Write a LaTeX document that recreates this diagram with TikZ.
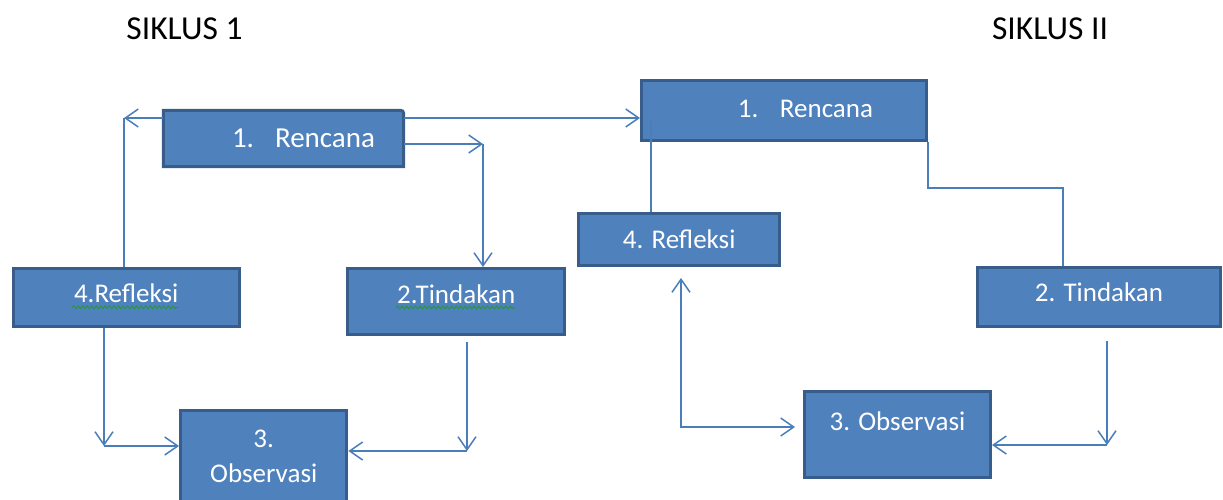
\documentclass[tikz,border=0pt]{standalone}
\usepackage{fontspec}
\setmainfont{Carlito}
\usetikzlibrary{arrows.meta,backgrounds,decorations.pathmorphing}
\definecolor{boxfill}{HTML}{4F81BD}
\definecolor{boxline}{HTML}{385D8A}
\definecolor{linecol}{HTML}{4A7EBB}
\definecolor{squig}{RGB}{40,150,60}
\tikzset{
  boxtext/.style={text=white, inner sep=0pt, font=\fontsize{27}{35}\selectfont},
  box/.style={boxtext, draw=boxline, fill=boxfill, line width=3pt},
  capmid/.style={text height=17.4pt, text depth=#1},
  capmid/.default=0pt,
  title/.style={inner sep=0pt, font=\fontsize{33.5}{40}\selectfont, text height=21.6pt, text depth=0pt},
  conn/.style={draw=linecol, line width=1.5pt},
  arr/.style={conn, -{Straight Barb[length=13pt,width=18pt]}},
  dblarr/.style={conn, {Straight Barb[length=13pt,width=18pt]}-{Straight Barb[length=13pt,width=18pt]}},
  squiggle/.style={draw=squig, line width=0.9pt, decorate, decoration={snake,amplitude=1.4pt,segment length=4.5pt}}
}
\begin{document}
\begin{tikzpicture}[x=1pt,y=-1pt]
    \useasboundingbox (0,0) rectangle (1223,499);
    \node[title] (sik1) at (184.5,29) {SIKLUS 1};
    \node[title] (sik2) at (1050,29) {SIKLUS II};

    \node[boxtext,font=\fontsize{29}{35}\selectfont,text height=18.7pt,text depth=0pt,minimum width=240pt,minimum height=56pt] (ren1) at (283.5,138.5) {\hspace*{40pt}1.\hspace{21pt}Rencana};
    \begin{scope}[on background layer]
      \filldraw[draw=boxline,fill=boxfill,line width=3pt] (ren1.south west) -- (ren1.north west) -- ([xshift=-7pt]ren1.north east) .. controls (ren1.north east) .. ([yshift=-7pt]ren1.north east) -- (ren1.south east) -- cycle;
    \end{scope}
    \node[box,capmid=8pt,minimum width=226pt,minimum height=58pt] (ref1) at (126.2,297.8) {4.Refleksi};
    \node[box,capmid=13pt,minimum width=216.5pt,minimum height=66pt] (tin1) at (456.2,301.5) {2.Tindakan};
    \node[box,align=center,minimum width=166.3pt,minimum height=92.4pt] (obs1) at (263.7,456.7) {3.\\Observasi};

    \node[box,capmid=4pt,minimum width=285pt,minimum height=60pt] (ren2) at (784,110.5) {\hspace*{43pt}1.\hspace{21.5pt}Rencana};
    \node[box,capmid,minimum width=201.5pt,minimum height=51.5pt] (ref2) at (679.2,239.7) {4. Refleksi};
    \node[box,capmid=8pt,minimum width=243pt,minimum height=59.3pt] (tin2) at (1099,297.2) {2. Tindakan};
    \node[box,capmid=25pt,minimum width=186pt,minimum height=86pt] (obs2) at (897.5,434.5) {3. Observasi};

    \draw[squiggle] ([shift={(-54,9.5)}]ref1.center) -- ([shift={(52,9.5)}]ref1.center);
    \draw[squiggle] ([shift={(-60,6)}]tin1.center) -- ([shift={(59,6)}]tin1.center);

    \coordinate (c1) at (124,118);
    \coordinate (c2) at (483,144);
    \coordinate (c3) at (104,446);
    \coordinate (c4a) at (467,342);
    \coordinate (c4) at (467,451);
    \coordinate (c5) at (1063,188);
    \coordinate (c6) at (651,121);
    \coordinate (c7) at (681,278);
    \coordinate (c8) at (795,427);
    \coordinate (c9a) at (1107,341);
    \coordinate (c9) at (1107,445);

    \draw[arr] (c1 -| ren1.west) -- (c1);
    \draw[conn] (c1 |- ref1.north) -- (c1);
    \draw[arr] (c1 -| ren1.east) -- (c1 -| ren2.west);
    \draw[arr] (c2 -| ren1.east) -- (c2);
    \draw[arr] (c2) -- (c2 |- tin1.north);
    \draw[arr] (c3 |- ref1.south) -- (c3);
    \draw[arr] (c3) -- (c3 -| obs1.west);
    \draw[arr] (c4a) -- (c4);
    \draw[arr] (c4) -- (c4 -| obs1.east);
    \draw[conn] (ren2.south east) |- (c5) -- (c5 |- tin2.north);
    \draw[conn] (c6 |- ref2.north) -- (c6);
    \draw[dblarr] (c7) |- (c8);
    \draw[arr] (c9a) -- (c9);
    \draw[arr] (c9) -- (c9 -| obs2.east);
\end{tikzpicture}
\end{document}
